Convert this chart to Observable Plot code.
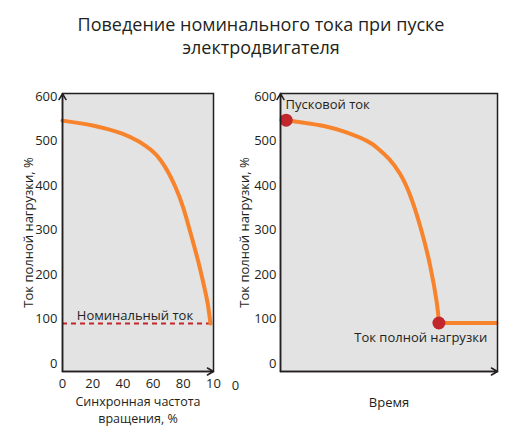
<!DOCTYPE html>
<html>
<head>
<meta charset="utf-8">
<script src="https://cdn.jsdelivr.net/npm/d3@7"></script>
<script src="https://cdn.jsdelivr.net/npm/@observablehq/plot@0.6"></script>
<style>
  body { margin: 0; background: #fff; font-family: "Open Sans", sans-serif; color: #231f20; }
  #title { height: 75px; box-sizing: border-box; padding-top: 13px; text-align: center; font-size: 18px; line-height: 23px; }
  #charts { display: flex; }
</style>
</head>
<body>
<div id="title">Поведение номинального тока при пуске<br>электродвигателя</div>
<div id="charts"></div>
<script>
  // left: current vs synchronous speed
  const speedPct = [0, 10, 20, 30, 40, 50, 55, 60, 65, 70, 75, 80, 85, 90, 94, 96.2, 98];
  const speedCurrent = [546, 541, 535, 527, 516, 500, 489, 476, 457, 430, 395, 350, 291, 228, 170, 134, 90];
  const nominalCurrent = 90;
  const xTicks = [0, 20, 40, 60, 80, 100];
  const xTickLabels = ["0", "20", "40", "60", "80", "10"];
  const speedLabel = ["Синхронная частота", "вращения, %"];

  // right: current vs time
  const timeT = [2.6, 10, 20, 30, 40, 45, 50, 55, 60, 65, 69, 72, 73];
  const timeCurrent = [547, 542, 534, 520, 500, 483, 460, 427, 375, 298, 219, 138, 91];
  const steadyT = [73, 99.5];
  const steadyCurrent = [91, 91];

  const yDomain = [-18, 607];
  const yTicks = [0, 100, 200, 300, 400, 500, 600];

  const ORANGE = "#f7842d";
  const RED = "#c1272d";
  const INK = "#231f20";

  const style = {fontFamily: "Open Sans, sans-serif", fontSize: "13px", color: INK, background: "#fff"};

  const axisArrows = (xd) => [
    {x1: xd[0], y1: yDomain[0], x2: xd[0], y2: yDomain[1]},
    {x1: xd[0], y1: yDomain[0], x2: xd[1], y2: yDomain[0]}
  ];
  const arrowMark = (xd) => Plot.arrow(axisArrows(xd), {
    x1: "x1", y1: "y1", x2: "x2", y2: "y2",
    stroke: INK, strokeWidth: 1.5, headLength: 7, insetStart: 0, insetEnd: 0
  });

  const yLabel = (dx) => Plot.text(["Ток полной нагрузки, %"], {
    frameAnchor: "left", textAnchor: "middle", lineAnchor: "middle", rotate: -90, dx, fill: INK
  });

  const bottomText = (t, dy, fontSize = 13) => Plot.text([t], {frameAnchor: "bottom", textAnchor: "middle", lineAnchor: "middle", dy, fontSize, fill: INK});

  const left = Plot.plot({
    width: 230,
    height: 361,
    marginTop: 18,
    marginBottom: 65,
    marginLeft: 62,
    marginRight: 17,
    style,
    x: {domain: [0, 100], ticks: xTicks, tickFormat: (d) => xTickLabels[xTicks.indexOf(d)], tickSize: 0, tickPadding: 7, label: null},
    y: {domain: yDomain, ticks: yTicks, tickSize: 0, tickPadding: 5, label: null},
    marks: [
      Plot.frame({fill: "#e3e3e3"}),
      Plot.ruleY([nominalCurrent], {stroke: RED, strokeWidth: 2, strokeDasharray: "5,4"}),
      Plot.line(speedPct.map((x, i) => ({x, y: speedCurrent[i]})), {x: "x", y: "y", stroke: ORANGE, strokeWidth: 4, curve: "natural"}),
      Plot.text([{x: 48, y: 108, t: "Номинальный ток"}], {x: "x", y: "y", text: "t", fill: INK}),
      arrowMark([0, 100]),
      Plot.frame({stroke: INK, strokeWidth: 1.5}),
      yLabel(-34),
      bottomText(speedLabel[0], 30, 12.5),
      bottomText(speedLabel[1], 47, 12.5)
    ]
  });

  const right = Plot.plot({
    width: 292,
    height: 361,
    marginTop: 18,
    marginBottom: 65,
    marginLeft: 50,
    marginRight: 25,
    style,
    x: {domain: [0, 100], axis: null},
    y: {domain: yDomain, ticks: yTicks, tickSize: 0, tickPadding: 4, label: null},
    marks: [
      Plot.frame({fill: "#e3e3e3"}),
      Plot.line(timeT.map((x, i) => ({x, y: timeCurrent[i]})), {x: "x", y: "y", stroke: ORANGE, strokeWidth: 4, curve: "natural"}),
      Plot.line(steadyT.map((x, i) => ({x, y: steadyCurrent[i]})), {x: "x", y: "y", stroke: ORANGE, strokeWidth: 4}),
      Plot.dot([{x: timeT[0], y: timeCurrent[0]}, {x: timeT[timeT.length - 1], y: timeCurrent[timeCurrent.length - 1]}], {x: "x", y: "y", r: 6.5, fill: RED}),
      Plot.text([{x: 2.3, y: 582, t: "Пусковой ток"}, {x: 34, y: 58, t: "Ток полной нагрузки"}], {x: "x", y: "y", text: "t", textAnchor: "start", fill: INK}),
      arrowMark([0, 100]),
      Plot.frame({stroke: INK, strokeWidth: 1.5}),
      yLabel(-36),
      bottomText("Время", 31),
      Plot.text(["0"], {frameAnchor: "bottom-left", textAnchor: "middle", lineAnchor: "middle", dx: -45, dy: 14, fill: INK})
    ]
  });

  const box = document.getElementById("charts");
  box.appendChild(left);
  box.appendChild(right);
</script>
</body>
</html>
